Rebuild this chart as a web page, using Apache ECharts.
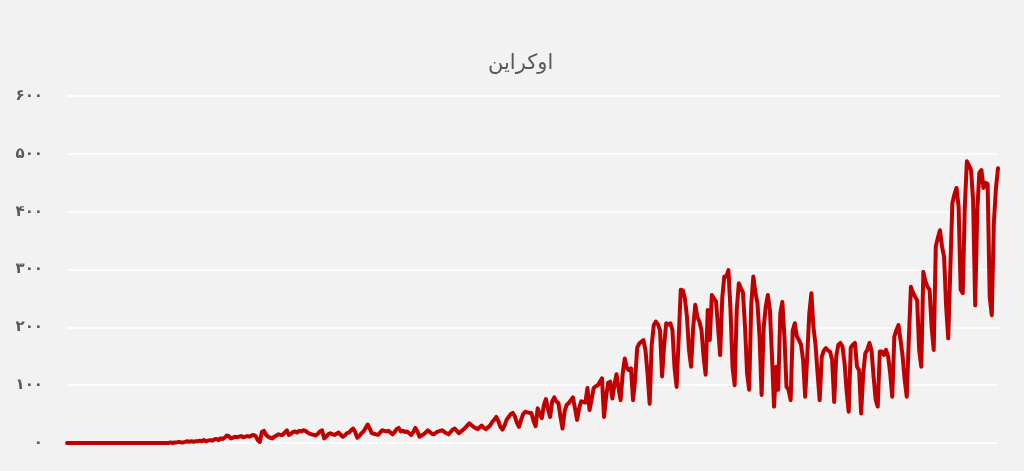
<!DOCTYPE html>
<html>
<head>
<meta charset="utf-8">
<script src="https://cdn.jsdelivr.net/npm/echarts@6/dist/echarts.min.js"></script>
<style>
html,body{margin:0;padding:0;background:#f2f2f2;}
#chart{width:1024px;height:471px;}
</style>
</head>
<body>
<div id="chart"></div>
<script>
const chartTitle = 'اوکراین';
const yTickValues = [0, 100, 200, 300, 400, 500, 600];
const yTickLabels = ['۰', '۱۰۰', '۲۰۰', '۳۰۰', '۴۰۰', '۵۰۰', '۶۰۰'];
const startDate = '2020-01-22';
const dailyDeaths = [
  0,0,0,0,0,0,0,0,0,0,
  0,0,0,0,0,0,0,0,0,0,
  0,0,0,0,0,0,0,0,0,0,
  0,0,0,0,0,0,0,0,0,0,
  0,0,0,0,0,0,0,0,0,0,
  1,0,1,1,2,1,1,2,3,2,
  3,2,3,3,4,3,5,3,4,5,
  4,6,7,5,8,7,9,13,12,8,
  9,11,10,11,12,10,11,12,11,13,
  14,12,5,2,19,21,14,11,9,8,
  11,13,15,14,14,18,22,14,16,19,
  20,18,21,20,22,21,18,16,15,14,
  13,16,20,22,8,11,15,17,15,14,
  16,18,14,11,13,17,18,22,25,19,
  9,12,17,20,26,32,25,17,16,15,
  14,18,22,21,20,21,18,15,19,24,
  26,20,21,19,20,17,14,19,26,20,
  11,13,15,18,22,19,16,15,18,20,
  21,22,19,17,15,19,23,25,21,17,
  20,23,26,30,34,31,28,26,24,27,
  30,26,24,27,30,36,40,45,38,28,
  23,30,40,45,50,52,46,35,28,40,
  50,54,53,52,52,38,29,60,50,43,
  66,76,58,45,72,79,72,69,45,25,
  55,66,69,74,79,60,40,60,72,71,
  70,95,57,75,95,98,100,106,112,45,
  80,104,106,77,100,119,95,74,120,146,
  130,126,129,74,110,165,172,175,178,160,
  120,68,170,204,210,205,195,115,170,207,
  205,207,195,130,97,180,265,264,250,218,
  160,132,200,239,218,210,195,150,118,230,
  178,256,250,245,200,152,250,288,288,299,
  230,130,100,230,276,268,260,201,120,92,
  240,288,260,242,184,83,200,236,256,230,
  150,63,132,92,224,244,184,97,92,74,
  195,207,184,178,170,144,80,150,224,259,
  200,170,120,74,149,160,164,160,158,144,
  71,150,170,173,167,138,90,54,165,170,
  173,132,126,51,120,155,161,173,160,115,
  75,63,158,158,152,161,150,121,80,184,
  195,204,178,150,109,80,180,270,260,253,
  247,160,132,296,280,270,265,200,161,340,
  355,368,340,322,236,181,300,415,430,441,
  409,265,259,409,487,480,472,420,238,400,
  467,472,441,450,448,253,221,380,440,475
];

const categories = [];
(function () {
  const d0 = new Date(startDate + 'T00:00:00Z');
  for (let i = 0; i < dailyDeaths.length; i++) {
    const d = new Date(d0.getTime() + i * 86400000);
    categories.push(d.toISOString().slice(0, 10));
  }
})();

const chart = echarts.init(document.getElementById('chart'));
chart.setOption({
  backgroundColor: '#f2f2f2',
  animation: false,
  title: {
    text: chartTitle,
    left: 483,
    top: 48,
    textStyle: { color: '#595959', fontSize: 21, fontWeight: 'normal', fontFamily: 'DejaVu Sans, sans-serif' }
  },
  grid: { left: 67, right: 26, top: 96, bottom: 28 },
  xAxis: {
    type: 'category',
    data: categories,
    boundaryGap: false,
    axisLine: { show: false },
    axisTick: { show: false },
    axisLabel: { show: false },
    splitLine: { show: false }
  },
  yAxis: {
    type: 'value',
    min: yTickValues[0],
    max: yTickValues[yTickValues.length - 1],
    interval: 100,
    axisLine: { show: false },
    axisTick: { show: false },
    axisLabel: {
      color: '#595959',
      fontSize: 15,
      fontWeight: 'bold',
      margin: 24,
      fontFamily: 'DejaVu Sans, sans-serif',
      formatter: function (v) { return yTickLabels[yTickValues.indexOf(v)]; }
    },
    splitLine: { lineStyle: { color: '#ffffff', width: 1.5 } }
  },
  series: [{
    type: 'line',
    data: dailyDeaths,
    showSymbol: false,
    symbol: 'none',
    lineStyle: { color: '#c00000', width: 4, join: 'round', cap: 'round' },
    itemStyle: { color: '#c00000' }
  }]
});
</script>
</body>
</html>
